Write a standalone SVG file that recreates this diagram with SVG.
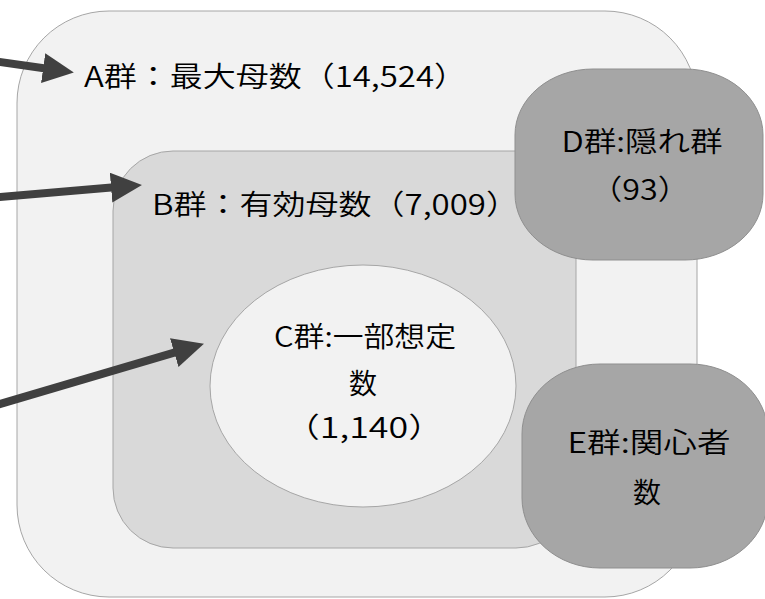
<svg xmlns="http://www.w3.org/2000/svg" width="765" height="599" viewBox="0 0 765 599">
<style>
.shape{stroke:#a6a6a6;stroke-width:1}
.a{fill:#f2f2f2}
.b{fill:#d9d9d9}
.c{fill:#f2f2f2}
.d{fill:#a6a6a6;stroke:#8f8f8f}
.t{font-family:"Noto Sans CJK JP","Noto Sans",sans-serif;font-size:28px;font-weight:350;fill:#000000}
.arrow{stroke:#404040;stroke-width:8;fill:none}
</style>
<defs>
<marker id="ah" markerUnits="userSpaceOnUse" markerWidth="32" markerHeight="32" viewBox="0 0 32 32" refX="15" refY="15" orient="auto">
<path d="M0,0 L31,15 L0,30 z" fill="#404040"/>
</marker>
</defs>
<rect width="765" height="599" fill="#ffffff"/>
<g id="nodeA">
<rect class="shape a" x="17" y="11" width="680" height="586" rx="92" ry="92"/>
<text class="t" x="84" y="87" textLength="383" lengthAdjust="spacingAndGlyphs">A群：最大母数（14,524）</text>
</g>
<g id="nodeB">
<rect class="shape b" x="113" y="151" width="463" height="397" rx="60" ry="60"/>
<text class="t" x="152" y="215" textLength="367" lengthAdjust="spacingAndGlyphs">B群：有効母数（7,009）</text>
</g>
<g id="nodeC">
<ellipse class="shape c" cx="363" cy="386" rx="153" ry="121"/>
<text class="t" x="365" y="347" text-anchor="middle" textLength="182" lengthAdjust="spacingAndGlyphs">C群:一部想定</text>
<text class="t" x="363" y="394" text-anchor="middle">数</text>
<text class="t" x="364" y="438" text-anchor="middle" textLength="160" lengthAdjust="spacingAndGlyphs">（1,140）</text>
</g>
<g id="nodeD">
<rect class="shape d" x="515" y="69" width="248" height="191" rx="78" ry="66"/>
<text class="t" x="642" y="152" text-anchor="middle" textLength="161" lengthAdjust="spacingAndGlyphs">D群:隠れ群</text>
<text class="t" x="640" y="200" text-anchor="middle" textLength="100" lengthAdjust="spacingAndGlyphs">（93）</text>
</g>
<g id="nodeE">
<rect class="shape d" x="522" y="364" width="246" height="204" rx="78" ry="70"/>
<text class="t" x="649" y="453" text-anchor="middle" textLength="163" lengthAdjust="spacingAndGlyphs">E群:関心者</text>
<text class="t" x="647" y="503" text-anchor="middle">数</text>
</g>
<g id="connectors">
<line class="arrow" x1="-10" y1="60.6" x2="58" y2="70.2" marker-end="url(#ah)"/>
<line class="arrow" x1="-10" y1="197.8" x2="126" y2="186.3" marker-end="url(#ah)"/>
<line class="arrow" x1="-10" y1="407" x2="188.6" y2="348.3" marker-end="url(#ah)"/>
</g>
</svg>
